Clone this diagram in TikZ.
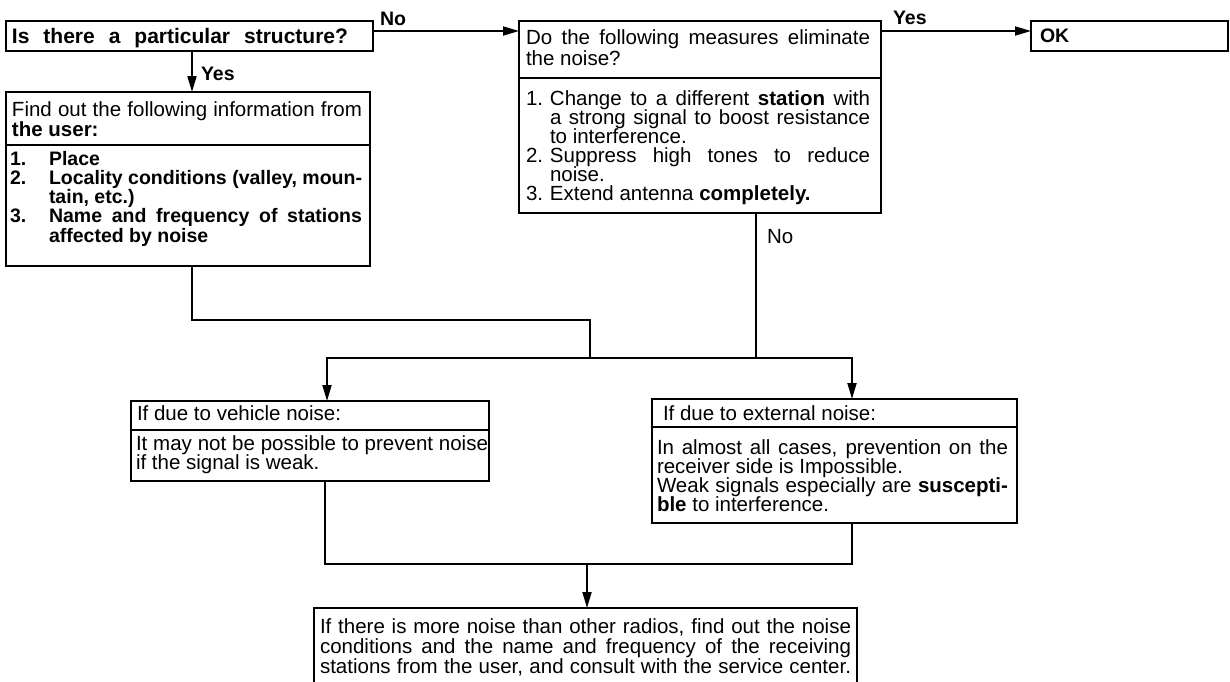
\documentclass[tikz,border=0pt]{standalone}
\usepackage{fontspec}
\setmainfont{Liberation Sans}
\usetikzlibrary{arrows.meta}
\newcommand\JL[1]{\hbox to\hsize{#1}}
\newcommand\LL[1]{\hbox to\hsize{#1\hfil}}
\newcommand\NB[2]{\hbox to #1{#2\hfil}}
\newcommand\TBk[4]{\vtop{\hsize=#1\fontsize{#2}{#3}\selectfont\lineskiplimit=-100pt\lineskip=0pt\relax #4}}
\begin{document}
\begin{tikzpicture}[x=1pt,y=-1pt,
  bx/.style={draw, line width=2pt, inner sep=0pt, outer sep=0pt, anchor=north west},
  tx/.style={inner sep=0pt, outer sep=0pt, anchor=base west},
  ln/.style={line width=1.8pt, line cap=rect},
  arr/.style={line width=1.8pt, -{Triangle[length=16pt,width=9pt]}},
  lbl/.style={inner sep=0pt, outer sep=0pt, anchor=base west, font=\fontsize{19.5}{19}\selectfont\bfseries},
  rlbl/.style={inner sep=0pt, outer sep=0pt, anchor=base west, font=\fontsize{20.5}{20}\selectfont}]
\fill[white] (0,0) rectangle (1230,681);
\useasboundingbox (0,0) rectangle (1230,681);

% boxes
\node[bx,minimum width=367pt,minimum height=30pt] (b1) at (6,21) {};
\node[bx,minimum width=362pt,minimum height=57pt] (b2h) at (519,21) {};
\node[bx,minimum width=362pt,minimum height=135pt] (b2b) at (519,78) {};
\node[bx,minimum width=197pt,minimum height=30pt] (ok) at (1031,21) {};
\node[bx,minimum width=364pt,minimum height=53pt] (b3h) at (6,92) {};
\node[bx,minimum width=364pt,minimum height=121pt] (b3b) at (6,145) {};
\node[bx,minimum width=358pt,minimum height=29pt] (b4h) at (131,401) {};
\node[bx,minimum width=358pt,minimum height=51pt] (b4b) at (131,430) {};
\node[bx,minimum width=365pt,minimum height=28pt] (b5h) at (652,399) {};
\node[bx,minimum width=365pt,minimum height=96pt] (b5b) at (652,427) {};
\node[bx,minimum width=543pt,minimum height=82pt] (b6) at (314,608) {};

% texts
\node[tx] (t1) at (12,43) {\fontsize{21}{20}\selectfont\bfseries\hbox to 336pt{Is there a particular structure?}};
\node[lbl] (tok) at (1040,42) {OK};
\node[tx] (t2h) at (526,44.5) {\TBk{344pt}{20.5}{20.5}{\JL{Do the following measures eliminate}\LL{the noise?}}};
\node[tx] (t2b) at (526,105) {\TBk{344pt}{20.5}{19}{%
  \JL{\NB{24pt}{1.}Change to a different {\bfseries station} with}%
  \JL{\kern24pt a strong signal to boost resistance}%
  \LL{\kern24pt to interference.}%
  \JL{\NB{24pt}{2.}Suppress high tones to reduce}%
  \LL{\kern24pt noise.}%
  \LL{\NB{24pt}{3.}Extend antenna {\bfseries completely.}}}};
\node[tx] (t3h) at (12,116) {\TBk{350pt}{20.5}{20}{\JL{Find out the following information from}\LL{\bfseries the user:}}};
\node[tx] (t3b) at (10,165) {\TBk{352pt}{19.5}{19.25}{\bfseries
  \LL{\NB{39pt}{1.}Place}%
  \JL{\NB{39pt}{2.}Locality conditions (valley, moun-}%
  \LL{\kern39pt tain, etc.)}%
  \JL{\NB{39pt}{3.}Name and frequency of stations}%
  \LL{\kern39pt affected by noise}}};
\node[rlbl] (t4h) at (137,420) {If due to vehicle noise:};
\node[tx] (t4b) at (136,450) {\TBk{352pt}{20.5}{19}{\JL{It may not be possible to prevent noise}\LL{if the signal is weak.}}};
\node[rlbl] (t5h) at (663,420) {If due to external noise:};
\node[tx] (t5b) at (657,454) {\TBk{351pt}{20.5}{19.3}{%
  \JL{In almost all cases, prevention on the}%
  \LL{receiver side is Impossible.}%
  \JL{Weak signals especially are {\bfseries suscepti-}}%
  \LL{{\bfseries ble} to interference.}}};
\node[tx] (t6) at (320,633) {\TBk{531pt}{20.5}{20}{%
  \JL{If there is more noise than other radios, find out the noise}%
  \JL{conditions and the name and frequency of the receiving}%
  \JL{stations from the user, and consult with the service center.}}};

% labels
\node[lbl] (lno1) at (380,25) {No};
\node[lbl] (lyes1) at (893,24) {Yes};
\node[lbl] (lyes2) at (201,80) {Yes};
\node[rlbl] (lno2) at (767,243) {No};

% junction points
\coordinate (cA) at (192,0);
\coordinate (cB) at (756,0);
\coordinate (m1) at (590,320);
\coordinate (m2) at (590,358);
\coordinate (m3) at (756,358);
\coordinate (m4) at (327,358);
\coordinate (m5) at (852,358);
\coordinate (m6) at (325,564);
\coordinate (m7) at (852,564);
\coordinate (m8) at (587,564);

% connectors
\draw[arr] ([yshift=-10pt]b1.north east) -- ([yshift=-10pt]b2h.north west);
\draw[arr] ([yshift=-10pt]b2h.north east) -- ([yshift=-10pt]ok.north west);
\draw[arr] (b1.south -| cA) -- (b3h.north -| cA);
\draw[ln] (b3b.south -| cA) |- (m1) -- (m2);
\draw[ln] (b2b.south -| cB) -- (m3);
\draw[ln] (m4) -- (m5);
\draw[arr] (m4) -- (b4h.north -| m4);
\draw[arr] (m5) -- (b5h.north -| m5);
\draw[ln] (b4b.south -| m6) -- (m6) -- (m7) -- (b5b.south -| m7);
\draw[arr] (m8) -- (b6.north -| m8);
\end{tikzpicture}
\end{document}
